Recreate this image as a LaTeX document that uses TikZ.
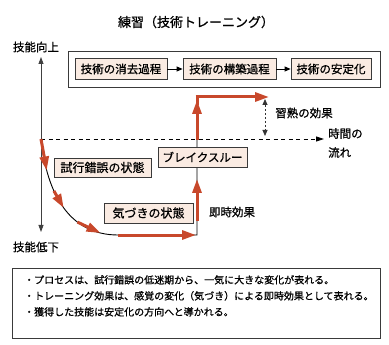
\documentclass[tikz,border=0pt]{standalone}
\usepackage{fontspec}
\setmainfont{Noto Sans CJK JP}[FakeBold=0.8]
\usetikzlibrary{arrows.meta}
\definecolor{redc}{HTML}{C8482B}
\definecolor{boxfill}{HTML}{FAEBE2}
\definecolor{edge}{HTML}{3A3A3A}
\begin{document}
\begin{tikzpicture}[x=1pt,y=-1pt,
  lbl/.style={draw=edge, fill=boxfill, line width=0.8pt, inner sep=0pt, font=\fontsize{11.5}{13}\selectfont},
  redarrow/.style={draw=redc, line width=3pt, -{Triangle[length=14pt,width=9pt]}},
  redline/.style={draw=redc, line width=3pt},
  blackarrow/.style={draw=black, line width=0.8pt, -{Triangle[length=6pt,width=5pt]}},
  txt/.style={inner sep=0pt, font=\fontsize{11.5}{13}\selectfont},
]
\useasboundingbox (0,0) rectangle (389,345);

% title
\node[inner sep=0pt, font=\fontsize{13}{15}\selectfont] (title) at (196,22) {練習（技術トレーニング）};

% top box
\draw[edge, line width=0.9pt] (68,51) rectangle (380,87);
\node[lbl, minimum width=92pt, minimum height=21pt] (b1) at (121,69) {技術の消去過程};
\node[lbl, minimum width=93pt, minimum height=21pt] (b2) at (229.5,69) {技術の構築過程};
\node[lbl, minimum width=80pt, minimum height=21pt] (b3) at (331,69) {技術の安定化};
\draw[blackarrow] (b1) -- (b2);
\draw[blackarrow] (b2) -- (b3);

% axes
\coordinate (o) at (41,139);
\coordinate (top) at (41,57);
\coordinate (bot) at (41,232);
\coordinate (tend) at (324,139);
\draw[draw=black!75, line width=0.8pt, -{Triangle[length=7pt,width=5pt]}] (o) -- (top);
\draw[draw=black!75, line width=0.8pt, -{Triangle[length=7pt,width=5pt]}] (o) -- (bot);
\draw[black, line width=0.9pt, dash pattern=on 4pt off 3.5pt, -{Triangle[length=8pt,width=5pt]}] (o) -- (tend);

\node[txt] (up) at (36,47) {技能向上};
\node[txt] (down) at (36,247) {技能低下};
\node[txt, anchor=west, align=left, font=\fontsize{11.5}{19}\selectfont] (time) at (328,143) {時間の\\流れ};

% black curve
\draw[black, line width=0.9pt] (o) .. controls (47,195) and (70,235) .. (118,235)
  coordinate[pos=0.2] (c1) coordinate[pos=0.35] (c2) coordinate[pos=0.5] (c3)
  coordinate[pos=0.66] (c4) coordinate[pos=0.87] (c5)
  -- (197,235) coordinate (corner) -- (197,97) coordinate (topcorner);

% red segments
\draw[redarrow] (o) -- (c1);
\draw[redarrow] (c2) -- (c3);
\draw[redarrow] (c4) -- (c5);
\coordinate (cend) at (118,235);
\coordinate (hend) at (196,235);
\draw[redarrow] (cend) -- (hend);
\coordinate (v1) at (197,221);
\coordinate (v2) at (197,179);
\draw[redarrow] (v1) -- (v2);
\coordinate (v3) at (197,140);
\coordinate (v4) at (197,100);
\draw[redarrow] (v3) -- (v4);
\coordinate (h1) at (197,105);
\coordinate (h2) at (269,97);
\draw[redline] (h1) -- ([yshift=1.5pt]topcorner);
\draw[redarrow] ([xshift=-1.5pt]topcorner) -- (h2);

% mastery effect arrow
\coordinate (m1) at (265,99);
\coordinate (m2) at (265,136);
\draw[black!80, line width=0.8pt, dash pattern=on 2pt off 2pt, {Triangle[length=6pt,width=5pt]}-{Triangle[length=6pt,width=5pt]}] (m1) -- (m2);
\node[txt] (mast) at (304,113) {習熟の効果};

% state boxes
\node[lbl, font=\fontsize{12}{14}\selectfont, minimum width=97pt, minimum height=19pt] (trial) at (102.5,167.5) {試行錯誤の状態};
\node[lbl, font=\fontsize{12}{14}\selectfont, minimum width=89pt, minimum height=20pt] (aware) at (148.5,213) {気づきの状態};
\node[lbl, minimum width=89pt, minimum height=20pt] (brk) at (202.5,157) {ブレイクスルー};
\node[txt] (imm) at (232,212) {即時効果};

% bottom box
\draw[edge, line width=0.9pt] (12,268) rectangle (380,338);
\node[anchor=north west, inner sep=0pt, align=left, font=\fontsize{10}{16}\selectfont] (notes) at (24,275)
 {・プロセスは、試行錯誤の低迷期から、一気に大きな変化が表れる。\\
  ・トレーニング効果は、感覚の変化（気づき）による即時効果として表れる。\\
  ・獲得した技能は安定化の方向へと導かれる。};
\end{tikzpicture}
\end{document}
